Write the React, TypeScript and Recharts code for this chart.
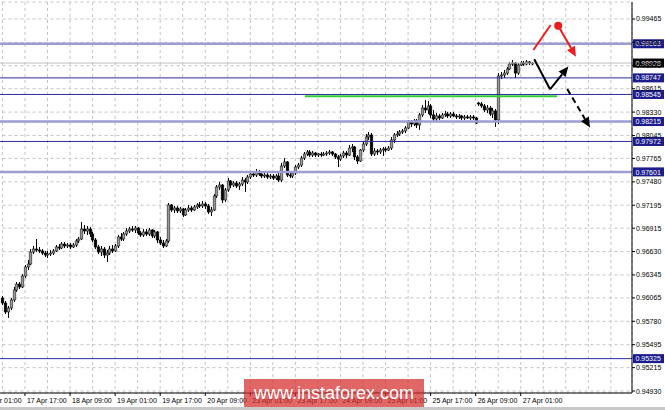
import React from 'react';
import { ComposedChart, Bar, XAxis, YAxis, CartesianGrid, ReferenceLine, ReferenceDot } from 'recharts';

// ---- data -------------------------------------------------------------
// first visible candle sits in slot 8 (17 Apr 09:00); slot 0 = 17 Apr 01:00
const FIRST_SLOT = 8;

// [open, high, low, close]
const ohlc: [number, number, number, number][] = [
  [0.96064, 0.96089, 0.95979, 0.96003], [0.96003, 0.96028, 0.95869, 0.95894], [0.95894, 0.95967, 0.95820, 0.95942],
  [0.95942, 0.96064, 0.95918, 0.96040], [0.96040, 0.96198, 0.96016, 0.96162], [0.96162, 0.96259, 0.96138, 0.96234],
  [0.96234, 0.96259, 0.96173, 0.96198], [0.96198, 0.96356, 0.96185, 0.96332], [0.96332, 0.96466, 0.96307, 0.96442],
  [0.96442, 0.96527, 0.96405, 0.96478], [0.96478, 0.96661, 0.96466, 0.96625], [0.96625, 0.96698, 0.96600, 0.96661],
  [0.96661, 0.96783, 0.96625, 0.96649], [0.96649, 0.96686, 0.96612, 0.96637], [0.96637, 0.96661, 0.96588, 0.96612],
  [0.96612, 0.96637, 0.96564, 0.96588], [0.96588, 0.96637, 0.96551, 0.96600], [0.96600, 0.96649, 0.96576, 0.96612],
  [0.96612, 0.96661, 0.96588, 0.96637], [0.96637, 0.96710, 0.96625, 0.96686], [0.96686, 0.96722, 0.96649, 0.96673],
  [0.96673, 0.96747, 0.96661, 0.96722], [0.96722, 0.96747, 0.96673, 0.96698], [0.96698, 0.96734, 0.96673, 0.96710],
  [0.96710, 0.96734, 0.96661, 0.96686], [0.96686, 0.96734, 0.96673, 0.96710], [0.96710, 0.96783, 0.96686, 0.96759],
  [0.96759, 0.96808, 0.96734, 0.96783], [0.96783, 0.96991, 0.96771, 0.96905], [0.96905, 0.96954, 0.96844, 0.96881],
  [0.96881, 0.96942, 0.96832, 0.96905], [0.96905, 0.96930, 0.96808, 0.96844], [0.96844, 0.96869, 0.96747, 0.96771],
  [0.96771, 0.96795, 0.96661, 0.96686], [0.96686, 0.96710, 0.96600, 0.96625], [0.96625, 0.96698, 0.96576, 0.96661],
  [0.96661, 0.96686, 0.96551, 0.96588], [0.96588, 0.96649, 0.96503, 0.96612], [0.96612, 0.96698, 0.96588, 0.96661],
  [0.96661, 0.96710, 0.96612, 0.96637], [0.96637, 0.96722, 0.96625, 0.96698], [0.96698, 0.96832, 0.96673, 0.96808],
  [0.96808, 0.96856, 0.96759, 0.96783], [0.96783, 0.96869, 0.96759, 0.96844], [0.96844, 0.96917, 0.96820, 0.96881],
  [0.96881, 0.96930, 0.96856, 0.96905], [0.96905, 0.96942, 0.96869, 0.96893], [0.96893, 0.96942, 0.96856, 0.96917],
  [0.96917, 0.96930, 0.96832, 0.96856], [0.96856, 0.96881, 0.96808, 0.96832],
  // 18-19 Apr
  [0.96832, 0.96905, 0.96808, 0.96869], [0.96869, 0.96905, 0.96820, 0.96844], [0.96844, 0.96917, 0.96820, 0.96893],
  [0.96893, 0.96905, 0.96795, 0.96820], [0.96820, 0.96893, 0.96795, 0.96869], [0.96869, 0.96881, 0.96734, 0.96771],
  [0.96771, 0.96808, 0.96710, 0.96734], [0.96734, 0.96771, 0.96673, 0.96698], [0.96698, 0.96783, 0.96686, 0.96759],
  [0.96759, 0.97222, 0.96734, 0.97198], [0.97198, 0.97210, 0.97113, 0.97137], [0.97137, 0.97186, 0.97100, 0.97161],
  [0.97161, 0.97186, 0.97100, 0.97125], [0.97125, 0.97174, 0.97100, 0.97149], [0.97149, 0.97161, 0.97052, 0.97076],
  [0.97076, 0.97161, 0.97064, 0.97137], [0.97137, 0.97198, 0.97113, 0.97161], [0.97161, 0.97186, 0.97113, 0.97137],
  [0.97137, 0.97198, 0.97125, 0.97174], [0.97174, 0.97222, 0.97149, 0.97198], [0.97198, 0.97235, 0.97161, 0.97186],
  [0.97186, 0.97247, 0.97161, 0.97210], [0.97210, 0.97235, 0.97149, 0.97186], [0.97186, 0.97210, 0.97088, 0.97113],
  [0.97113, 0.97174, 0.97064, 0.97137], [0.97137, 0.97332, 0.97125, 0.97308], [0.97308, 0.97441, 0.97283, 0.97417],
  [0.97417, 0.97478, 0.97381, 0.97441], [0.97441, 0.97453, 0.97222, 0.97259], [0.97259, 0.97404, 0.97235, 0.97381],
  [0.97381, 0.97526, 0.97357, 0.97490], [0.97490, 0.97502, 0.97404, 0.97441], [0.97441, 0.97490, 0.97417, 0.97465],
  [0.97465, 0.97490, 0.97404, 0.97429], [0.97429, 0.97478, 0.97381, 0.97453], [0.97453, 0.97539, 0.97429, 0.97502],
  [0.97502, 0.97526, 0.97357, 0.97478], [0.97478, 0.97563, 0.97453, 0.97539], [0.97539, 0.97600, 0.97514, 0.97575],
  [0.97575, 0.97612, 0.97539, 0.97563], [0.97563, 0.97636, 0.97539, 0.97600], [0.97600, 0.97624, 0.97551, 0.97575],
  [0.97575, 0.97600, 0.97526, 0.97551],
  // 20-24 Apr
  [0.97551, 0.97587, 0.97526, 0.97563], [0.97563, 0.97587, 0.97514, 0.97539], [0.97539, 0.97575, 0.97514, 0.97551],
  [0.97551, 0.97575, 0.97502, 0.97526], [0.97526, 0.97575, 0.97502, 0.97551], [0.97551, 0.97600, 0.97478, 0.97502],
  [0.97502, 0.97709, 0.97478, 0.97673], [0.97673, 0.97770, 0.97648, 0.97722], [0.97722, 0.97734, 0.97539, 0.97563],
  [0.97563, 0.97600, 0.97526, 0.97551], [0.97551, 0.97612, 0.97526, 0.97587], [0.97587, 0.97685, 0.97563, 0.97661],
  [0.97661, 0.97709, 0.97636, 0.97685], [0.97685, 0.97795, 0.97661, 0.97770], [0.97770, 0.97844, 0.97746, 0.97819],
  [0.97819, 0.97868, 0.97795, 0.97844], [0.97844, 0.97868, 0.97783, 0.97807], [0.97807, 0.97856, 0.97783, 0.97831],
  [0.97831, 0.97844, 0.97783, 0.97807], [0.97807, 0.97831, 0.97783, 0.97819], [0.97819, 0.97844, 0.97783, 0.97807],
  [0.97807, 0.97844, 0.97795, 0.97819], [0.97819, 0.97856, 0.97795, 0.97831], [0.97831, 0.97868, 0.97807, 0.97844],
  [0.97844, 0.97856, 0.97795, 0.97819], [0.97819, 0.97831, 0.97758, 0.97783], [0.97783, 0.97807, 0.97661, 0.97758],
  [0.97758, 0.97819, 0.97734, 0.97795], [0.97795, 0.97856, 0.97770, 0.97831], [0.97831, 0.97856, 0.97770, 0.97807],
  [0.97807, 0.97929, 0.97795, 0.97892], [0.97892, 0.97941, 0.97844, 0.97905], [0.97905, 0.97917, 0.97746, 0.97783],
  [0.97783, 0.97807, 0.97697, 0.97734], [0.97734, 0.97880, 0.97722, 0.97868], [0.97868, 0.97966, 0.97844, 0.97941],
  [0.97941, 0.98063, 0.97917, 0.98027], [0.98027, 0.98088, 0.97990, 0.98051], [0.98051, 0.98075, 0.97795, 0.97819],
  [0.97819, 0.97892, 0.97795, 0.97856], [0.97856, 0.97880, 0.97807, 0.97844], [0.97844, 0.97892, 0.97819, 0.97868],
  [0.97868, 0.97905, 0.97795, 0.97880], [0.97880, 0.97905, 0.97844, 0.97868], [0.97868, 0.97917, 0.97856, 0.97892],
  [0.97892, 0.98027, 0.97868, 0.97990],
  // 25-27 Apr
  [0.97990, 0.98075, 0.97953, 0.98051], [0.98051, 0.98100, 0.98027, 0.98063], [0.98063, 0.98112, 0.98039, 0.98088],
  [0.98088, 0.98124, 0.98063, 0.98100], [0.98100, 0.98161, 0.98075, 0.98136], [0.98136, 0.98234, 0.98124, 0.98210],
  [0.98210, 0.98234, 0.98149, 0.98185], [0.98185, 0.98246, 0.98161, 0.98222], [0.98222, 0.98246, 0.98136, 0.98173],
  [0.98173, 0.98319, 0.98112, 0.98295], [0.98295, 0.98417, 0.98271, 0.98380], [0.98380, 0.98478, 0.98319, 0.98356],
  [0.98356, 0.98466, 0.98307, 0.98405], [0.98405, 0.98429, 0.98258, 0.98295], [0.98295, 0.98356, 0.98222, 0.98246],
  [0.98246, 0.98319, 0.98222, 0.98283], [0.98283, 0.98307, 0.98234, 0.98258], [0.98258, 0.98319, 0.98246, 0.98295],
  [0.98295, 0.98344, 0.98271, 0.98307], [0.98307, 0.98332, 0.98258, 0.98283], [0.98283, 0.98332, 0.98258, 0.98307],
  [0.98307, 0.98332, 0.98271, 0.98283], [0.98283, 0.98307, 0.98246, 0.98271], [0.98271, 0.98307, 0.98246, 0.98283],
  [0.98283, 0.98295, 0.98234, 0.98258], [0.98258, 0.98295, 0.98234, 0.98271], [0.98271, 0.98295, 0.98246, 0.98258],
  [0.98258, 0.98295, 0.98234, 0.98271], [0.98271, 0.98295, 0.98234, 0.98258], [0.98258, 0.98271, 0.98185, 0.98197],
  [0.98441, 0.98454, 0.98405, 0.98429], [0.98429, 0.98454, 0.98380, 0.98405], [0.98405, 0.98429, 0.98332, 0.98356],
  [0.98356, 0.98417, 0.98319, 0.98380], [0.98380, 0.98405, 0.98283, 0.98307], [0.98307, 0.98380, 0.98258, 0.98344],
  [0.98344, 0.98368, 0.98149, 0.98234], [0.98234, 0.98806, 0.98185, 0.98770], [0.98770, 0.98819, 0.98733, 0.98782],
  [0.98782, 0.98843, 0.98745, 0.98806], [0.98806, 0.98880, 0.98782, 0.98855], [0.98855, 0.98941, 0.98843, 0.98916],
  [0.98916, 0.98965, 0.98892, 0.98928], [0.98928, 0.98941, 0.98745, 0.98806], [0.98806, 0.98928, 0.98782, 0.98904],
  [0.98904, 0.98953, 0.98892, 0.98928], [0.98928, 0.98953, 0.98892, 0.98916], [0.98916, 0.98965, 0.98904, 0.98941],
  [0.98941, 0.98953, 0.98904, 0.98928], [0.98928, 0.98941, 0.98904, 0.98928],
];

// one label every 16 hourly bars, starting at slot 0
const timeLabels = [
  '17 Apr 01:00', '17 Apr 17:00', '18 Apr 09:00', '19 Apr 01:00', '19 Apr 17:00', '20 Apr 09:00',
  '23 Apr 01:00', '23 Apr 17:00', '24 Apr 09:00', '25 Apr 01:00', '25 Apr 17:00', '26 Apr 09:00', '27 Apr 01:00',
];
const gridSlots = [0, 8, 16, 24, 32, 40, 48, 56, 64, 72, 80, 88, 96, 104, 112, 120, 128, 136, 144, 152, 160, 168, 176, 184, 192, 200, 208, 216, 224];

const priceTicks = [
  0.9493, 0.95215, 0.95495, 0.9578, 0.96065, 0.96345, 0.9663, 0.96915, 0.97195,
  0.9748, 0.97765, 0.98045, 0.9833, 0.98615, 0.98895, 0.9918, 0.99465,
];
const thickLevels = [0.99163, 0.98215, 0.97601];
const thinLevels = [0.98747, 0.98545, 0.97972, 0.95325];
const lastPrice = 0.98928;
const greenLevel = { price: 0.98522, from: 115.4, to: 204.9 };

// hand-drawn forecast arrows: [slot, price] pairs
const redRise = [[196.5, 0.99087], [202.6, 0.99392]];
const redFall = [[205.3, 0.99383], [211.6, 0.99005]];
const redDot = [205.3, 0.99383];
const blackDrop = [[196.8, 0.98974], [202.4, 0.98608]];
const blackRise = [[202.4, 0.98608], [208.9, 0.98886]];
const blackDashed = [[208.5, 0.98612], [216.6, 0.98142]];

// ---- chart ------------------------------------------------------------
const chartData = ohlc.map((b, k) => ({ i: FIRST_SLOT + k, o: b[0], h: b[1], l: b[2], c: b[3] }));

const FONT = '"Liberation Sans", Arial, sans-serif';

const Candle = (props: any) => {
  const { x, y, width, height, payload } = props;
  if (!payload || x == null) return null;
  const { o, h, l, c } = payload;
  const span = h - l;
  const toPx = (v: number) => (span > 0 ? y + ((h - v) / span) * height : y);
  const cx = Math.round(x + width / 2) + 0.5;
  const yo = toPx(o);
  const yc = toPx(c);
  const top = Math.min(yo, yc);
  const bot = Math.max(yo, yc);
  const bull = c >= o;
  return (
    <g>
      <line x1={cx} x2={cx} y1={y} y2={y + height} stroke="#000" strokeWidth={1} />
      <rect x={cx - 1.3} y={top} width={2.6} height={Math.max(bot - top, 1)}
        fill={bull ? '#9a9a9a' : '#000'} stroke={bull ? '#222' : '#000'} strokeWidth={0.6} />
    </g>
  );
};

const XTick = (props: any) => {
  const { x, y, payload } = props;
  const v = payload.value;
  const label = v % 16 === 0 ? timeLabels[v / 16] : undefined;
  if (!label) return null;
  return (
    <g>
      <line x1={x} x2={x} y1={y} y2={y + 3} stroke="#000" strokeWidth={1} />
      <text x={x + 2} y={y + 9.5} fontSize={7} fontFamily={FONT} fill="#000" textAnchor="start">{label}</text>
    </g>
  );
};

const tag = (text: string, fill: string) => (props: any) => {
  const vb = props.viewBox || {};
  const x = (vb.x || 0) + (vb.width || 0) + 1;
  const y = vb.y || 0;
  return (
    <g>
      <rect x={x} y={y - 4.5} width={31} height={9} fill={fill} />
      <text x={x + 2.5} y={y + 2.6} fontSize={7} fontFamily={FONT} fill="#fff">{text}</text>
    </g>
  );
};

const arrowShape = (color: string, head: boolean, dash?: string) => (props: any) => {
  const { x1, y1, x2, y2 } = props;
  if ([x1, y1, x2, y2].some((v) => v == null || isNaN(v))) return null;
  const dx = x2 - x1;
  const dy = y2 - y1;
  const len = Math.sqrt(dx * dx + dy * dy) || 1;
  const ux = dx / len;
  const uy = dy / len;
  const L = 10;
  const W = 4.5;
  const bx = head ? x2 - ux * L : x2;
  const by = head ? y2 - uy * L : y2;
  return (
    <g>
      <line x1={x1} y1={y1} x2={bx} y2={by} stroke={color} strokeWidth={2} strokeDasharray={dash} />
      {head && (
        <polygon
          points={`${x2},${y2} ${bx - uy * W},${by + ux * W} ${bx + uy * W},${by - ux * W}`}
          fill={color}
        />
      )}
    </g>
  );
};

const seg = (p: number[][]) => [{ x: p[0][0], y: p[0][1] }, { x: p[1][0], y: p[1][1] }] as any;

export default function App() {
  return (
    <div style={{ position: 'fixed', left: 0, top: 0, width: 665, height: 410, overflow: 'hidden', background: '#fff' }}>
      <div style={{ position: 'absolute', left: -22, top: 0 }}>
        <ComposedChart width={687} height={410} data={chartData} margin={{ top: 2, right: 0, bottom: 2, left: 0.5 }}>
          <CartesianGrid stroke="#c4c4c4" strokeDasharray="3 3" />
          <XAxis
            dataKey="i"
            type="number"
            domain={[-0.5, 231.5]}
            allowDataOverflow
            ticks={gridSlots}
            interval={0}
            height={15}
            tickSize={0}
            tickMargin={0}
            tickLine={false}
            axisLine={{ stroke: '#000' }}
            tick={<XTick />}
          />
          <YAxis
            orientation="right"
            type="number"
            domain={[0.94906, 0.99672]}
            allowDataOverflow
            ticks={priceTicks}
            interval={0}
            width={33}
            tickSize={3}
            tickMargin={1}
            tickLine={{ stroke: '#000' }}
            axisLine={{ stroke: '#000' }}
            tick={{ fontSize: 7, fill: '#000', fontFamily: FONT }}
            tickFormatter={(v: number) => v.toFixed(5)}
          />
          {thickLevels.map((v) => (
            <ReferenceLine key={'k' + v} y={v} stroke="#9d9dd3" strokeWidth={2.5} label={tag(v.toFixed(5), '#1c1c8c')} />
          ))}
          {thinLevels.map((v) => (
            <ReferenceLine key={'n' + v} y={v} stroke="#2a2aa0" strokeWidth={1} label={tag(v.toFixed(5), '#1c1c8c')} />
          ))}
          <ReferenceLine y={lastPrice} stroke="#c0c0c0" strokeWidth={1} label={tag(lastPrice.toFixed(5), '#000')} />
          <ReferenceLine
            segment={[{ x: greenLevel.from, y: greenLevel.price }, { x: greenLevel.to, y: greenLevel.price }]}
            stroke="#33cc33"
            strokeWidth={2}
          />
          <Bar dataKey={(d: any) => [d.l, d.h]} barSize={3} shape={<Candle />} isAnimationActive={false} />
          <ReferenceLine segment={seg(redRise)} shape={arrowShape('#ee1c1c', false)} />
          <ReferenceLine segment={seg(redFall)} shape={arrowShape('#ee1c1c', true)} />
          <ReferenceDot x={redDot[0]} y={redDot[1]} r={4} fill="#ee1c1c" stroke="none" />
          <ReferenceLine segment={seg(blackDrop)} shape={arrowShape('#000', false)} />
          <ReferenceLine segment={seg(blackRise)} shape={arrowShape('#000', true)} />
          <ReferenceLine segment={seg(blackDashed)} shape={arrowShape('#000', true, '6 4')} />
        </ComposedChart>
      </div>
      <div style={{ position: 'absolute', left: 0, top: 407, width: 665, height: 3, background: '#c8c8c8' }} />
      <div
        style={{
          position: 'absolute', left: 244, top: 379, width: 180, height: 28,
          background: 'rgba(214, 44, 44, 0.72)', color: '#fff', fontFamily: FONT, fontSize: 18,
          lineHeight: '28px', textAlign: 'center',
        }}
      >
        www.instaforex.com
      </div>
    </div>
  );
}
